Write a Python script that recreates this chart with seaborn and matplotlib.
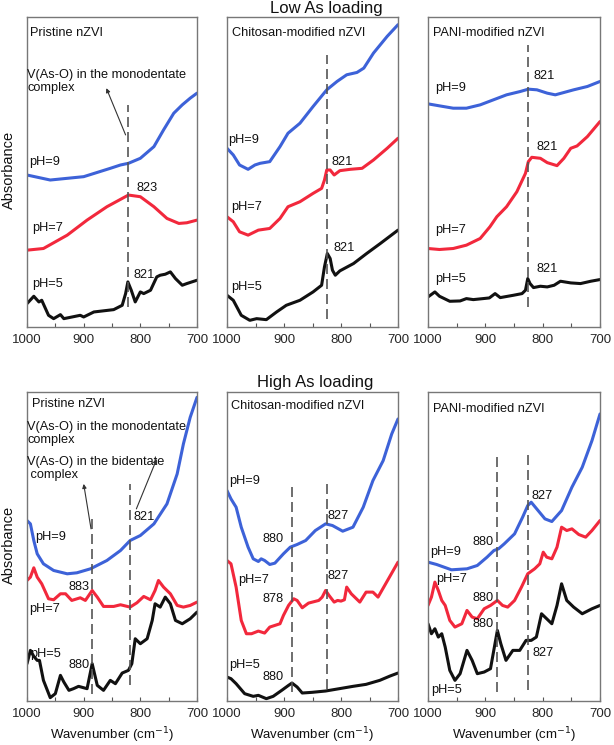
import numpy as np
import pandas as pd
import matplotlib
matplotlib.use("Agg")
import matplotlib.pyplot as plt
from matplotlib.ticker import MultipleLocator
import seaborn as sns

sns.set_theme(style="white")
plt.rcParams['font.family'] = ['Liberation Sans', 'DejaVu Sans']

BLUE = "#3d62d8"
RED = "#f2283c"
BLACK = "#111111"

# ---------------- Low As loading : Pristine nZVI ----------------
p1_b_x = [1000, 959, 900, 853, 835, 821, 800, 776, 759, 741, 726, 712, 700]
p1_b_y = [455, 440, 450, 475, 485, 490, 505, 540, 590, 640, 665, 685, 700]
p1_r_x = [1000, 971, 929, 894, 859, 821, 800, 776, 753, 732, 718, 700]
p1_r_y = [230, 235, 275, 320, 360, 395, 390, 360, 325, 310, 312, 320]
p1_k_x = [1000, 988, 979, 974, 962, 953, 941, 935, 906, 900, 882, 847, 832, 826, 822, 816, 809, 800, 794, 782, 771, 765, 756, 747, 738, 726, 718, 700]
p1_k_y = [70, 92, 75, 80, 35, 25, 37, 25, 35, 30, 45, 52, 65, 100, 135, 110, 75, 105, 100, 110, 150, 155, 158, 165, 145, 125, 130, 140]

# ---------------- Low As loading : Chitosan-modified nZVI ----------------
p2_b_x = [1000, 989, 978, 963, 951, 942, 925, 907, 893, 872, 849, 825, 807, 790, 772, 760, 743, 719, 700]
p2_b_y = [535, 515, 485, 472, 485, 490, 495, 540, 580, 610, 660, 710, 735, 755, 762, 775, 820, 870, 905]
p2_r_x = [1000, 989, 978, 963, 945, 925, 907, 893, 872, 849, 834, 829, 825, 819, 812, 802, 784, 763, 743, 719, 700]
p2_r_y = [330, 315, 285, 275, 290, 295, 325, 360, 375, 400, 415, 440, 470, 470, 455, 468, 472, 475, 500, 535, 565]
p2_k_x = [1000, 989, 975, 960, 948, 931, 913, 896, 872, 849, 834, 829, 824, 819, 815, 810, 802, 778, 755, 731, 700]
p2_k_y = [95, 80, 35, 20, 25, 22, 45, 65, 80, 105, 125, 180, 220, 205, 170, 155, 168, 190, 220, 250, 290]

# ---------------- Low As loading : PANI-modified nZVI ----------------
p3_b_x = [1000, 980, 956, 933, 909, 886, 863, 839, 825, 810, 792, 778, 763, 746, 722, 700]
p3_b_y = [668, 662, 655, 655, 665, 680, 695, 705, 712, 710, 700, 695, 702, 710, 720, 735]
p3_r_x = [1000, 980, 956, 933, 909, 892, 880, 863, 845, 830, 825, 819, 804, 792, 775, 763, 751, 740, 722, 700]
p3_r_y = [235, 232, 235, 245, 265, 300, 330, 360, 405, 460, 495, 508, 505, 492, 483, 505, 535, 542, 570, 615]
p3_k_x = [1000, 988, 980, 962, 944, 933, 921, 904, 893, 883, 874, 851, 836, 830, 826, 822, 816, 804, 792, 780, 769, 751, 734, 716, 700]
p3_k_y = [90, 105, 92, 77, 78, 85, 82, 85, 87, 100, 88, 95, 100, 110, 145, 130, 118, 122, 120, 125, 137, 132, 130, 137, 142]

# ---------------- High As loading : Pristine nZVI ----------------
p4_b_x = [1000, 994, 988, 982, 971, 953, 929, 912, 888, 859, 835, 818, 800, 776, 753, 735, 724, 712, 700]
p4_b_y = [542, 532, 482, 442, 412, 392, 382, 385, 397, 422, 452, 482, 497, 532, 592, 682, 772, 852, 912]
p4_r_x = [1000, 994, 988, 982, 974, 962, 953, 941, 932, 921, 906, 897, 885, 876, 865, 847, 835, 818, 806, 794, 782, 774, 768, 759, 747, 735, 724, 712, 700]
p4_r_y = [362, 372, 400, 372, 352, 307, 304, 322, 322, 302, 310, 302, 332, 312, 284, 284, 289, 282, 295, 314, 304, 332, 362, 342, 322, 287, 282, 287, 297]
p4_k_x = [1000, 994, 988, 982, 978, 971, 959, 950, 941, 935, 926, 918, 909, 894, 885, 876, 865, 853, 844, 832, 821, 815, 809, 800, 788, 779, 774, 765, 756, 747, 738, 726, 712, 700]
p4_k_y = [112, 152, 134, 122, 122, 62, 10, 22, 77, 57, 32, 37, 44, 37, 112, 47, 32, 62, 52, 84, 92, 112, 187, 172, 187, 242, 292, 282, 312, 292, 242, 232, 247, 267]

# ---------------- High As loading : Chitosan-modified nZVI ----------------
p5_b_x = [1000, 993, 984, 975, 963, 954, 945, 940, 934, 925, 916, 901, 889, 877, 862, 845, 827, 815, 797, 779, 761, 744, 726, 711, 700]
p5_b_y = [632, 607, 582, 522, 462, 427, 419, 427, 422, 410, 414, 442, 462, 470, 482, 512, 532, 527, 510, 522, 582, 662, 722, 802, 847]
p5_r_x = [1000, 993, 984, 975, 966, 957, 945, 934, 925, 907, 901, 892, 883, 877, 868, 857, 839, 833, 827, 821, 812, 806, 800, 794, 790, 782, 767, 756, 744, 735, 720, 700]
p5_r_y = [422, 412, 342, 242, 202, 202, 210, 204, 222, 232, 257, 287, 307, 302, 280, 294, 302, 312, 332, 317, 297, 302, 300, 304, 342, 322, 297, 327, 327, 312, 357, 417]
p5_k_x = [1000, 993, 984, 969, 954, 945, 931, 919, 904, 892, 886, 877, 868, 851, 827, 803, 779, 756, 732, 714, 700]
p5_k_y = [72, 67, 52, 22, 14, 17, 7, 14, 32, 47, 54, 42, 24, 26, 30, 37, 44, 50, 62, 75, 84]

# ---------------- High As loading : PANI-modified nZVI ----------------
p6_b_x = [1000, 985, 959, 932, 914, 897, 885, 877, 867, 849, 835, 826, 820, 808, 796, 784, 767, 749, 731, 714, 700]
p6_b_y = [417, 410, 394, 397, 407, 432, 452, 457, 472, 502, 552, 587, 597, 572, 547, 539, 572, 642, 702, 782, 862]
p6_r_x = [1000, 994, 988, 982, 976, 970, 962, 953, 941, 932, 923, 914, 902, 891, 879, 870, 861, 849, 837, 826, 814, 805, 799, 793, 784, 775, 767, 758, 749, 737, 725, 714, 700]
p6_r_y = [287, 312, 357, 332, 302, 287, 242, 222, 232, 272, 252, 247, 277, 287, 302, 287, 282, 302, 342, 382, 397, 412, 447, 432, 427, 462, 522, 512, 517, 500, 492, 512, 542]
p6_k_x = [1000, 994, 988, 982, 976, 970, 962, 953, 944, 932, 923, 914, 902, 891, 879, 873, 864, 852, 840, 829, 820, 811, 802, 793, 784, 775, 767, 758, 746, 731, 714, 700]
p6_k_y = [232, 202, 217, 192, 202, 162, 92, 62, 82, 152, 122, 82, 87, 97, 212, 172, 122, 152, 152, 182, 182, 192, 262, 247, 232, 287, 352, 302, 282, 262, 277, 287]

ph_labels = ["pH=9", "pH=7", "pH=5"]
panel_titles = ["Pristine nZVI", "Chitosan-modified nZVI", "PANI-modified nZVI"]
row_titles = ["Low As loading", "High As loading"]
xticks = [1000, 900, 800, 700]

panels = [
    [(p1_b_x, p1_b_y), (p1_r_x, p1_r_y), (p1_k_x, p1_k_y)],
    [(p2_b_x, p2_b_y), (p2_r_x, p2_r_y), (p2_k_x, p2_k_y)],
    [(p3_b_x, p3_b_y), (p3_r_x, p3_r_y), (p3_k_x, p3_k_y)],
    [(p4_b_x, p4_b_y), (p4_r_x, p4_r_y), (p4_k_x, p4_k_y)],
    [(p5_b_x, p5_b_y), (p5_r_x, p5_r_y), (p5_k_x, p5_k_y)],
    [(p6_b_x, p6_b_y), (p6_r_x, p6_r_y), (p6_k_x, p6_k_y)],
]
colors = [BLUE, RED, BLACK]

fig = plt.figure(figsize=(6.14, 7.45), dpi=100)
W, H = 614, 745
col_px = [(27, 197), (227, 398), (428, 600)]
row_px = [(17, 327), (392, 701)]

axes = []
for r in range(2):
    for c in range(3):
        x0, x1 = col_px[c]
        y0, y1 = row_px[r]
        ax = fig.add_axes([x0 / W, 1 - y1 / H, (x1 - x0) / W, (y1 - y0) / H])
        axes.append(ax)

FS = 9.2
for i, ax in enumerate(axes):
    for (xs, ys), col, lab in zip(panels[i], colors, ph_labels):
        df = pd.DataFrame({"Wavenumber": xs, "Absorbance": ys})
        sns.lineplot(data=df, x="Wavenumber", y="Absorbance", ax=ax, color=col,
                     lw=2.2, sort=False, solid_joinstyle="round", solid_capstyle="round")
    ax.set_xlim(1000, 700)
    ax.set_ylim(0, 928)
    ax.set_yticks([])
    ax.set_xticks(xticks)
    ax.set_xticklabels([str(t) for t in xticks], fontsize=9.5)
    ax.xaxis.set_minor_locator(MultipleLocator(50))
    ax.tick_params(axis="x", which="both", direction="in", length=3, width=0.8,
                   color="#555555", pad=5, bottom=True)
    for s in ax.spines.values():
        s.set_color("#777777")
        s.set_linewidth(1.0)
    ax.set_xlabel("")
    ax.set_ylabel("")

def txt(ax, x, y, s, **kw):
    ax.text(x, y, s, fontsize=FS, ha="left", va="center", color="#111111", **kw)

def vdash(ax, x, y0, y1):
    ax.plot([x, x], [y0, y1], color="#555555", lw=1.2, linestyle=(0, (6, 3)))

def arrow(ax, xy_from, xy_to):
    ax.annotate("", xy=xy_to, xytext=xy_from,
                arrowprops=dict(arrowstyle="-|>", color="#333333", lw=0.8,
                                mutation_scale=6, shrinkA=0, shrinkB=0))

# panel titles
title_pos = [(994, 880), (992, 880), (992, 880), (991, 892), (993, 887), (991, 877)]
for i, ax in enumerate(axes):
    txt(ax, title_pos[i][0], title_pos[i][1], panel_titles[i % 3])

# Panel 1
ax = axes[0]
vdash(ax, 821, 60, 665)
txt(ax, 1000, 735, "V(As-O) in the monodentate\ncomplex", linespacing=1.1)
arrow(ax, (826, 575), (860, 715))
txt(ax, 997, 495, "pH=9"); txt(ax, 991, 295, "pH=7"); txt(ax, 991, 130, "pH=5")
txt(ax, 806, 415, "823"); txt(ax, 812, 155, "821")

# Panel 2
ax = axes[1]
vdash(ax, 825, 25, 815)
txt(ax, 998, 560, "pH=9"); txt(ax, 992, 360, "pH=7"); txt(ax, 992, 120, "pH=5")
txt(ax, 816, 495, "821"); txt(ax, 813, 235, "821")

# Panel 3
ax = axes[2]
vdash(ax, 826, 60, 845)
txt(ax, 988, 715, "pH=9"); txt(ax, 988, 290, "pH=7"); txt(ax, 988, 145, "pH=5")
txt(ax, 816, 750, "821"); txt(ax, 810, 540, "821"); txt(ax, 810, 175, "821")

# Panel 4
ax = axes[3]
vdash(ax, 885, 22, 547)
vdash(ax, 819, 47, 652)
txt(ax, 1000, 804, "V(As-O) in the monodentate\ncomplex", linespacing=1.1)
txt(ax, 1000, 697, "V(As-O) in the bidentate\n complex", linespacing=1.1)
arrow(ax, (807, 577), (771, 727))
arrow(ax, (887, 517), (900, 652))
txt(ax, 812, 552, "821"); txt(ax, 985, 492, "pH=9"); txt(ax, 926, 342, "883")
txt(ax, 997, 277, "pH=7"); txt(ax, 994, 142, "pH=5"); txt(ax, 926, 107, "880")

# Panel 5
ax = axes[4]
vdash(ax, 886, 27, 652)
vdash(ax, 825, 37, 667)
txt(ax, 996, 662, "pH=9"); txt(ax, 937, 487, "880"); txt(ax, 824, 557, "827")
txt(ax, 981, 362, "pH=7"); txt(ax, 824, 374, "827"); txt(ax, 937, 307, "878")
txt(ax, 996, 107, "pH=5"); txt(ax, 937, 72, "880")

# Panel 6
ax = axes[5]
vdash(ax, 879, 27, 737)
vdash(ax, 825, 32, 742)
txt(ax, 820, 617, "827"); txt(ax, 923, 477, "880"); txt(ax, 997, 447, "pH=9")
txt(ax, 985, 367, "pH=7"); txt(ax, 923, 310, "880"); txt(ax, 923, 232, "880")
txt(ax, 817, 144, "827"); txt(ax, 994, 34, "pH=5")

# Row titles
fig.text(326 / W, 1 - 9 / H, row_titles[0], fontsize=12, ha="center", va="center", color="#111111")
fig.text(315 / W, 1 - 382 / H, row_titles[1], fontsize=12, ha="center", va="center", color="#111111")

# Y labels
fig.text(9 / W, 1 - 170 / H, "Absorbance", rotation=90, fontsize=10.5, ha="center", va="center", color="#111111")
fig.text(9 / W, 1 - 545 / H, "Absorbance", rotation=90, fontsize=10.5, ha="center", va="center", color="#111111")

# X labels
for c in range(3):
    x0, x1 = col_px[c]
    fig.text((x0 + x1) / 2 / W, 1 - 735 / H, "Wavenumber (cm$^{-1}$)", fontsize=9.5,
             ha="center", va="center", color="#111111")

fig.savefig("out.png", dpi=100)
